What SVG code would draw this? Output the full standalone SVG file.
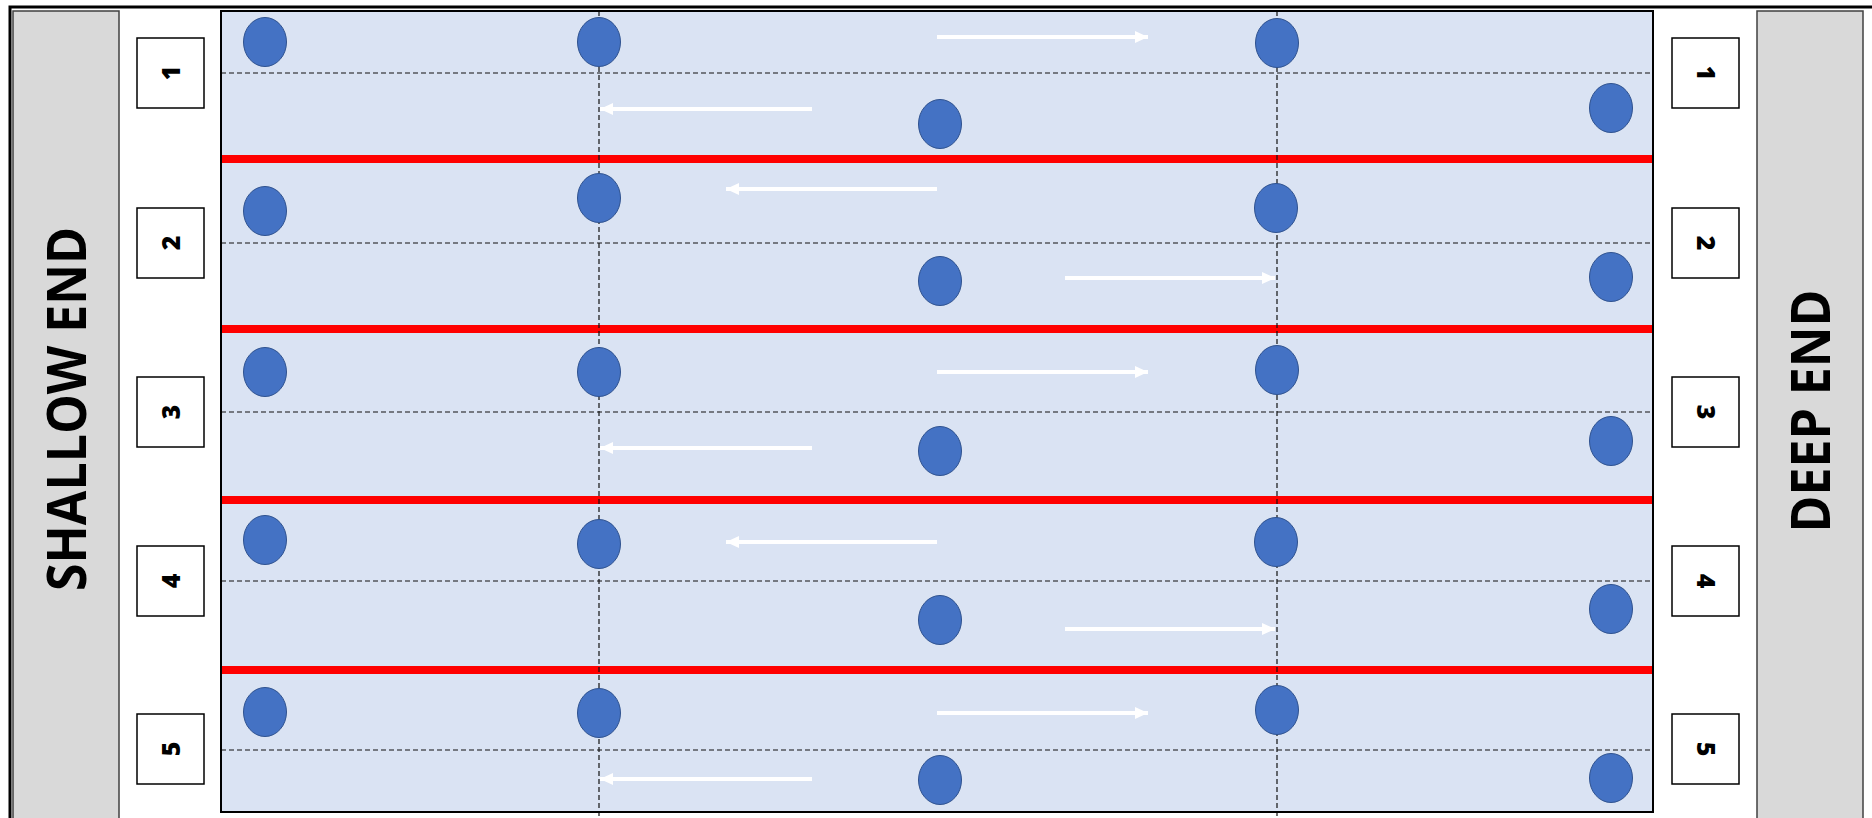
<svg xmlns="http://www.w3.org/2000/svg" width="1872" height="818" viewBox="0 0 1872 818">
<defs>
<style>
.panel{fill:#d9d9d9;stroke:#404040;stroke-width:1.5}
.end{font-family:"Open Sans","Liberation Sans",sans-serif;font-weight:700;font-size:54px;fill:#000}
.box{fill:#fff;stroke:#000;stroke-width:1.5}
.num{font-family:"Open Sans","Liberation Sans",sans-serif;font-weight:800;font-size:25px;fill:#000}
.rope{stroke:#ff0000;stroke-width:8}
.dash{stroke:#111;stroke-width:1.2;stroke-dasharray:5 3;fill:none}
.swimmer{fill:#4472c4;stroke:#2f528f;stroke-width:1}
.arrow{stroke:#fff;stroke-width:4;fill:none;marker-end:url(#ah)}
</style>
<marker id="ah" markerUnits="userSpaceOnUse" markerWidth="14" markerHeight="14" refX="13" refY="7" orient="auto">
<path d="M0,1 L13,7 L0,13 Z" fill="#fff"/>
</marker>
</defs>
<rect x="0" y="0" width="1872" height="818" fill="#fff"/>
<rect x="10" y="7" width="1900" height="900" fill="none" stroke="#000" stroke-width="3"/>
<g id="shallow-end">
<rect class="panel" x="13" y="11" width="106" height="820"/>
<text class="end" transform="translate(86,409) rotate(-90)" text-anchor="middle" textLength="364" lengthAdjust="spacingAndGlyphs">SHALLOW END</text>
</g>
<g id="deep-end">
<rect class="panel" x="1757" y="11" width="106" height="820"/>
<text class="end" transform="translate(1830,411) rotate(-90)" text-anchor="middle" textLength="243" lengthAdjust="spacingAndGlyphs">DEEP END</text>
</g>
<g id="pool">
<rect x="221" y="11" width="1432" height="801" fill="#dae3f3"/>
<line class="rope" x1="221" y1="159" x2="1653" y2="159"/>
<line class="rope" x1="221" y1="329" x2="1653" y2="329"/>
<line class="rope" x1="221" y1="500" x2="1653" y2="500"/>
<line class="rope" x1="221" y1="670" x2="1653" y2="670"/>
<line class="dash" x1="221" y1="73" x2="1653" y2="73"/>
<line class="dash" x1="221" y1="243" x2="1653" y2="243"/>
<line class="dash" x1="221" y1="412" x2="1653" y2="412"/>
<line class="dash" x1="221" y1="581" x2="1653" y2="581"/>
<line class="dash" x1="221" y1="750" x2="1653" y2="750"/>
<line class="dash" x1="599" y1="11" x2="599" y2="818"/>
<line class="dash" x1="1277" y1="11" x2="1277" y2="818"/>
</g>
<g id="left-lane-numbers">
<g id="lane-l1"><rect class="box" x="137" y="38" width="67" height="70"/><text class="num" transform="translate(170.5,73) rotate(-90)" y="9" text-anchor="middle">1</text></g>
<g id="lane-l2"><rect class="box" x="137" y="208" width="67" height="70"/><text class="num" transform="translate(170.5,243) rotate(-90)" y="9" text-anchor="middle">2</text></g>
<g id="lane-l3"><rect class="box" x="137" y="377" width="67" height="70"/><text class="num" transform="translate(170.5,412) rotate(-90)" y="9" text-anchor="middle">3</text></g>
<g id="lane-l4"><rect class="box" x="137" y="546" width="67" height="70"/><text class="num" transform="translate(170.5,581) rotate(-90)" y="9" text-anchor="middle">4</text></g>
<g id="lane-l5"><rect class="box" x="137" y="714" width="67" height="70"/><text class="num" transform="translate(170.5,749) rotate(-90)" y="9" text-anchor="middle">5</text></g>
</g>
<g id="right-lane-numbers">
<g id="lane-r1"><rect class="box" x="1672" y="38" width="67" height="70"/><text class="num" transform="translate(1705.5,73) rotate(90)" y="9" text-anchor="middle">1</text></g>
<g id="lane-r2"><rect class="box" x="1672" y="208" width="67" height="70"/><text class="num" transform="translate(1705.5,243) rotate(90)" y="9" text-anchor="middle">2</text></g>
<g id="lane-r3"><rect class="box" x="1672" y="377" width="67" height="70"/><text class="num" transform="translate(1705.5,412) rotate(90)" y="9" text-anchor="middle">3</text></g>
<g id="lane-r4"><rect class="box" x="1672" y="546" width="67" height="70"/><text class="num" transform="translate(1705.5,581) rotate(90)" y="9" text-anchor="middle">4</text></g>
<g id="lane-r5"><rect class="box" x="1672" y="714" width="67" height="70"/><text class="num" transform="translate(1705.5,749) rotate(90)" y="9" text-anchor="middle">5</text></g>
</g>
<g id="swimmers">
<g id="lane1-swimmers">
<ellipse class="swimmer" cx="265" cy="42" rx="21.5" ry="24.5"/>
<ellipse class="swimmer" cx="599" cy="42" rx="21.5" ry="24.5"/>
<ellipse class="swimmer" cx="1277" cy="43" rx="21.5" ry="24.5"/>
<ellipse class="swimmer" cx="940" cy="124" rx="21.5" ry="24.5"/>
<ellipse class="swimmer" cx="1611" cy="108" rx="21.5" ry="24.5"/>
</g>
<g id="lane2-swimmers">
<ellipse class="swimmer" cx="265" cy="211" rx="21.5" ry="24.5"/>
<ellipse class="swimmer" cx="599" cy="198" rx="21.5" ry="24.5"/>
<ellipse class="swimmer" cx="1276" cy="208" rx="21.5" ry="24.5"/>
<ellipse class="swimmer" cx="940" cy="281" rx="21.5" ry="24.5"/>
<ellipse class="swimmer" cx="1611" cy="277" rx="21.5" ry="24.5"/>
</g>
<g id="lane3-swimmers">
<ellipse class="swimmer" cx="265" cy="372" rx="21.5" ry="24.5"/>
<ellipse class="swimmer" cx="599" cy="372" rx="21.5" ry="24.5"/>
<ellipse class="swimmer" cx="1277" cy="370" rx="21.5" ry="24.5"/>
<ellipse class="swimmer" cx="940" cy="451" rx="21.5" ry="24.5"/>
<ellipse class="swimmer" cx="1611" cy="441" rx="21.5" ry="24.5"/>
</g>
<g id="lane4-swimmers">
<ellipse class="swimmer" cx="265" cy="540" rx="21.5" ry="24.5"/>
<ellipse class="swimmer" cx="599" cy="544" rx="21.5" ry="24.5"/>
<ellipse class="swimmer" cx="1276" cy="542" rx="21.5" ry="24.5"/>
<ellipse class="swimmer" cx="940" cy="620" rx="21.5" ry="24.5"/>
<ellipse class="swimmer" cx="1611" cy="609" rx="21.5" ry="24.5"/>
</g>
<g id="lane5-swimmers">
<ellipse class="swimmer" cx="265" cy="712" rx="21.5" ry="24.5"/>
<ellipse class="swimmer" cx="599" cy="713" rx="21.5" ry="24.5"/>
<ellipse class="swimmer" cx="1277" cy="710" rx="21.5" ry="24.5"/>
<ellipse class="swimmer" cx="940" cy="780" rx="21.5" ry="24.5"/>
<ellipse class="swimmer" cx="1611" cy="778" rx="21.5" ry="24.5"/>
</g>
</g>
<g id="connectors">
<line class="arrow" x1="937" y1="37" x2="1148" y2="37"/>
<line class="arrow" x1="812" y1="109" x2="600" y2="109"/>
<line class="arrow" x1="937" y1="189" x2="726" y2="189"/>
<line class="arrow" x1="1065" y1="278" x2="1275" y2="278"/>
<line class="arrow" x1="937" y1="372" x2="1148" y2="372"/>
<line class="arrow" x1="812" y1="448" x2="600" y2="448"/>
<line class="arrow" x1="937" y1="542" x2="726" y2="542"/>
<line class="arrow" x1="1065" y1="629" x2="1275" y2="629"/>
<line class="arrow" x1="937" y1="713" x2="1148" y2="713"/>
<line class="arrow" x1="812" y1="779" x2="600" y2="779"/>
</g>
<rect id="pool-border" x="221" y="11" width="1432" height="801" fill="none" stroke="#000" stroke-width="2"/>
</svg>
